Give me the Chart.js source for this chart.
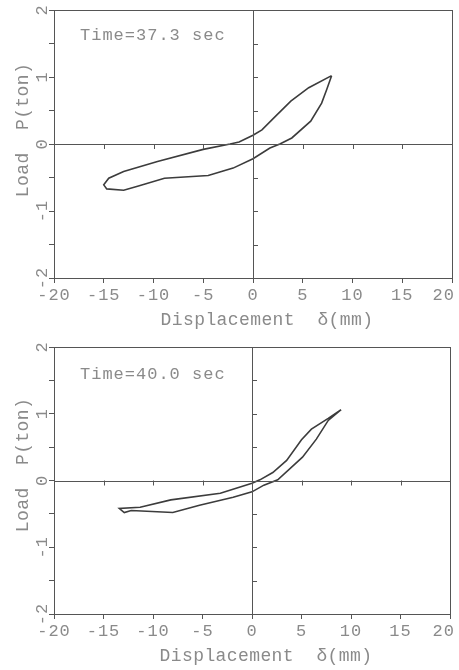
<!DOCTYPE html>
<html>
<head>
<meta charset="utf-8">
<script src="https://cdn.jsdelivr.net/npm/chart.js@4/dist/chart.umd.min.js"></script>
<style>
  html, body { margin: 0; padding: 0; background: #fff; }
  .panel { position: relative; width: 459px; height: 335px; }
</style>
</head>
<body>
<div class="panel"><canvas id="chart1"></canvas></div>
<div class="panel"><canvas id="chart2"></canvas></div>
<script>
// loop at t = 37.3 sec (traced from the tip along the upper branch and back)
const disp373 = [7.9, 5.6, 3.8, 2.1, 0.9, 0, -1.4, -2.3, -5.0, -9.6, -13.0, -14.5, -15.0, -14.7, -13.0, -11.6, -8.9, -4.5, -2.0, 0, 1.7, 2.7, 3.9, 5.8, 6.9, 7.4, 7.9];
const load373 = [1.02, 0.84, 0.64, 0.39, 0.21, 0.13, 0.03, 0.0, -0.08, -0.26, -0.41, -0.51, -0.61, -0.67, -0.69, -0.63, -0.51, -0.47, -0.36, -0.22, -0.06, 0.0, 0.09, 0.34, 0.61, 0.81, 1.02];

// loop at t = 40.0 sec
const disp400 = [9.0, 7.7, 6.0, 5.0, 3.5, 2.1, 0.8, 0, -3.2, -8.2, -11.3, -13.4, -12.9, -12.2, -8.0, -5.3, -1.9, 0, 1.2, 2.6, 5.1, 6.5, 7.7, 9.0];
const load400 = [1.06, 0.93, 0.77, 0.61, 0.30, 0.12, 0.01, -0.04, -0.19, -0.29, -0.40, -0.42, -0.48, -0.45, -0.48, -0.37, -0.25, -0.17, -0.07, 0.01, 0.35, 0.62, 0.90, 1.06];

const timeLabels = ['Time=37.3 sec', 'Time=40.0 sec'];
const xTitle = 'Displacement  \u03b4(mm)';
const yTitle = 'Load  P(ton)';
const xLabelValues = [-20, -15, -10, -5, 0, 5, 10, 15, 20];
const yLabelValues = [-2, -1, 0, 1, 2];

const AXIS = '#555';
const INK = '#8a8a8a';
const FONT = '"Liberation Mono", "DejaVu Sans Mono", monospace';

// box, zero lines with their small ticks, tick labels and the titles
const axisDecor = {
  id: 'axisDecor',
  afterDraw(chart, args, opts) {
    const { ctx, chartArea: a, scales: { x, y } } = chart;
    const x0 = x.getPixelForValue(0);
    const y0 = y.getPixelForValue(0);
    ctx.save();
    ctx.strokeStyle = AXIS;
    ctx.lineWidth = 1;
    ctx.strokeRect(a.left + 0.5, a.top + 0.5, a.width, a.height);
    ctx.beginPath();
    ctx.moveTo(a.left, Math.round(y0) + 0.5);
    ctx.lineTo(a.right, Math.round(y0) + 0.5);
    ctx.moveTo(Math.round(x0) + 0.5, a.top);
    ctx.lineTo(Math.round(x0) + 0.5, a.bottom);
    x.ticks.forEach(t => {
      if (t.value === 0 || Math.abs(t.value) === 20) return;
      const px = Math.round(x.getPixelForValue(t.value)) + 0.5;
      ctx.moveTo(px, y0);
      ctx.lineTo(px, y0 + 5);
    });
    y.ticks.forEach(t => {
      if (t.value === 0 || Math.abs(t.value) === 2) return;
      const py = Math.round(y.getPixelForValue(t.value)) + 0.5;
      ctx.moveTo(x0, py);
      ctx.lineTo(x0 + 5, py);
    });
    ctx.stroke();

    ctx.fillStyle = INK;
    ctx.font = '17px ' + FONT;
    ctx.letterSpacing = '1px';
    ctx.textBaseline = 'middle';

    // x tick labels, the last one kept inside the page
    xLabelValues.forEach(v => {
      const txt = String(v);
      const w = ctx.measureText(txt).width;
      let cx = x.getPixelForValue(v);
      cx = Math.min(cx, chart.width - 4 - w / 2);
      ctx.textAlign = 'center';
      ctx.fillText(txt, cx, a.bottom + 17);
    });

    yLabelValues.forEach(v => {
      ctx.save();
      ctx.translate(a.left - 12, y.getPixelForValue(v));
      ctx.rotate(-Math.PI / 2);
      ctx.textAlign = 'center';
      ctx.fillText(String(v), 0, 0);
      ctx.restore();
    });

    ctx.textAlign = 'left';
    ctx.fillText(opts.label, a.left + 26, a.top + opts.labelOffset);

    ctx.font = '18px ' + FONT;
    ctx.letterSpacing = '0.4px';
    ctx.textAlign = 'center';
    ctx.save();
    ctx.translate(23, a.top + opts.yTitleOffset);
    ctx.rotate(-Math.PI / 2);
    ctx.fillText(yTitle, 0, 0);
    ctx.restore();
    ctx.fillText(xTitle, x0 + 14, a.bottom + 42);
    ctx.restore();
  }
};

function makeChart(id, xs, ys, label, pad, xHeight, yTitleOffset, labelOffset) {
  const ctx = document.getElementById(id).getContext('2d');
  return new Chart(ctx, {
    type: 'scatter',
    data: {
      datasets: [{
        data: xs.map((v, i) => ({ x: v, y: ys[i] })),
        showLine: true,
        borderColor: '#3c3c3c',
        borderWidth: 1.6,
        pointRadius: 0,
        tension: 0
      }]
    },
    options: {
      responsive: false,
      animation: false,
      layout: { padding: pad },
      plugins: {
        legend: { display: false },
        tooltip: { enabled: false },
        axisDecor: { label: label, yTitleOffset: yTitleOffset, labelOffset: labelOffset }
      },
      scales: {
        x: {
          min: -20, max: 20,
          ticks: { stepSize: 5, display: false },
          grid: { drawOnChartArea: false, drawTicks: true, tickLength: 5, color: AXIS },
          border: { display: false },
          afterFit: s => { s.height = xHeight; s.paddingLeft = 0; s.paddingRight = 0; }
        },
        y: {
          min: -2, max: 2,
          ticks: { stepSize: 0.5, display: false },
          grid: { drawOnChartArea: false, drawTicks: true, tickLength: 5, color: AXIS },
          border: { display: false },
          afterFit: s => { s.width = 54; s.paddingTop = 0; s.paddingBottom = 0; }
        }
      }
    },
    plugins: [axisDecor]
  });
}

document.getElementById('chart1').width = 459;
document.getElementById('chart1').height = 335;
document.getElementById('chart2').width = 459;
document.getElementById('chart2').height = 335;

makeChart('chart1', disp373, load373, timeLabels[0], { left: 0, right: 7, top: 10, bottom: 0 }, 57, 120, 25);
makeChart('chart2', disp400, load400, timeLabels[1], { left: 0, right: 9, top: 12, bottom: 0 }, 56, 118, 27);
</script>
</body>
</html>
